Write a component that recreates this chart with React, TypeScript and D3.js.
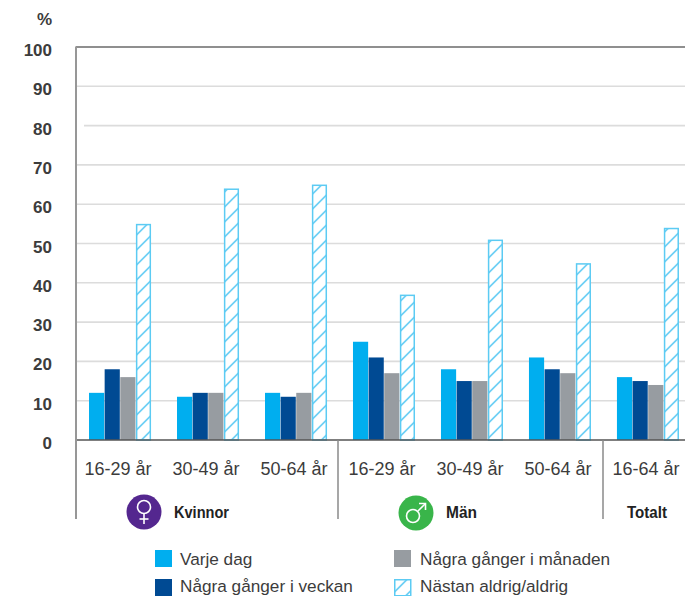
import React from "react";
import * as d3 from "d3";

const groups = ["K 16-29", "K 30-49", "K 50-64", "M 16-29", "M 30-49", "M 50-64", "T 16-64"];
const ageLabels = ["16-29 år", "30-49 år", "50-64 år", "16-29 år", "30-49 år", "50-64 år", "16-64 år"];
const seriesNames = ["Varje dag", "Några gånger i veckan", "Några gånger i månaden", "Nästan aldrig/aldrig"];
const varjeDag = [12, 11, 12, 25, 18, 21, 16];
const veckan = [18, 12, 11, 21, 15, 18, 15];
const manaden = [16, 12, 12, 17, 15, 17, 14];
const aldrig = [55, 64, 65, 37, 51, 45, 54];
const seriesValues = [varjeDag, veckan, manaden, aldrig];
const yTicks = [0, 10, 20, 30, 40, 50, 60, 70, 80, 90, 100];
const colors = ["#00aeef", "#004a93", "#979ca1", "url(#hatch)"];

const W = 685, H = 596;
const y = d3.scaleLinear().domain([0, 100]).range([440, 47]);
const x = d3.scaleBand<string>().domain(groups).range([76, 692]).paddingInner(0.295).paddingOuter(0.148);
const x1 = d3.scaleBand<string>().domain(seriesNames).range([0, x.bandwidth()]).paddingInner(0.03);
const font = "'Liberation Sans', Arial, sans-serif";
const textCol = "#3c3c3c";

const sep = [76, 338, 603];
const legend = [
  { i: 0, bx: 155, by: 550, tx: 180, ty: 565 },
  { i: 1, bx: 155, by: 579, tx: 180, ty: 591.5 },
  { i: 2, bx: 394, by: 550, tx: 420, ty: 565 },
  { i: 3, bx: 394, by: 579, tx: 420, ty: 591.5 },
];

export default function App() {
  return (
    <svg width={W} height={H} style={{ position: "absolute", left: 0, top: 0, display: "block", background: "#fff" }} fontFamily={font}>
      <defs>
        <pattern id="hatch" patternUnits="userSpaceOnUse" width="15" height="15" patternTransform="translate(0,4) skewY(-45)">
          <rect width="15" height="15" fill="#fff" />
          <line x1="0" y1="7.5" x2="15" y2="7.5" stroke="#2fbbf0" strokeWidth="1.7" />
        </pattern>
      </defs>

      <text x={52} y={25} textAnchor="end" fontWeight="700" fontSize={17} fill={textCol}>%</text>
      {yTicks.map((t) => (
        <g key={t}>
          {t > 0 && t < 100 && (
            <line x1={t === 80 ? 84 : 77} x2={W} y1={y(t)} y2={y(t)} stroke="#dcdcdc" strokeWidth={1.6} />
          )}
          <text x={52} y={y(t) + 9} textAnchor="end" fontWeight="700" fontSize={17} fill={textCol}>{t}</text>
        </g>
      ))}
      <line x1={75.5} x2={W} y1={47} y2={47} stroke="#8f8f8f" strokeWidth={2} />

      {groups.map((g, gi) => (
        <g key={g}>
          {seriesNames.map((s, si) => {
            const v = seriesValues[si][gi];
            const bx = (x(g) as number) + (x1(s) as number);
            const hatch = si === 3;
            return (
              <rect key={s} x={bx + (hatch ? 0.75 : 0)} y={y(v) + (hatch ? 0.75 : 0)} width={x1.bandwidth() - (hatch ? 1.5 : 0)} height={y(0) - y(v) - (hatch ? 0.75 : 0)}
                fill={colors[si]} stroke={hatch ? "#5ccbf3" : "none"} strokeWidth={hatch ? 1.5 : 0} />
            );
          })}
          <text x={(x(g) as number) + x.bandwidth() / 2 - 2} y={475} textAnchor="middle" fontSize={18} fill={textCol}>{ageLabels[gi]}</text>
        </g>
      ))}

      <line x1={75} x2={W} y1={440} y2={440} stroke="#555" strokeWidth={1.5} />
      <line x1={76} x2={76} y1={47} y2={519} stroke="#979797" strokeWidth={2} />
      {sep.slice(1).map((sx) => (
        <line key={sx} x1={sx} x2={sx} y1={440} y2={519} stroke="#8a8a8a" strokeWidth={1.5} />
      ))}

      <circle cx={144} cy={512} r={17.5} fill="#54278f" />
      <circle cx={144} cy={507} r={6.5} fill="none" stroke="#fff" strokeWidth={1.6} />
      <line x1={144} x2={144} y1={513.5} y2={524} stroke="#fff" strokeWidth={1.6} />
      <line x1={139.5} x2={148.5} y1={519} y2={519} stroke="#fff" strokeWidth={1.6} />
      <text x={174} y={518} fontWeight="700" fontSize={16} fill="#222" textLength={55} lengthAdjust="spacingAndGlyphs">Kvinnor</text>

      <circle cx={416} cy={513} r={17.5} fill="#39b54a" />
      <circle cx={413} cy={516} r={6.5} fill="none" stroke="#fff" strokeWidth={1.6} />
      <line x1={418} x2={425} y1={511} y2={504} stroke="#fff" strokeWidth={1.6} />
      <path d="M419 503.5 H425.5 V510" fill="none" stroke="#fff" strokeWidth={1.6} />
      <text x={446} y={518} fontWeight="700" fontSize={16} fill="#222" textLength={31} lengthAdjust="spacingAndGlyphs">Män</text>
      <text x={627} y={518} fontWeight="700" fontSize={16} fill="#222" textLength={40} lengthAdjust="spacingAndGlyphs">Totalt</text>

      {legend.map((l) => (
        <g key={l.i}>
          <rect x={l.bx + (l.i === 3 ? 0.75 : 0)} y={l.by + (l.i === 3 ? 0.75 : 0)} width={l.i === 3 ? 16 : 17} height={l.i === 3 ? 16 : 17}
            fill={colors[l.i]} stroke={l.i === 3 ? "#5ccbf3" : "none"} strokeWidth={1.5} />
          <text x={l.tx} y={l.ty} fontSize={17.2} fill={textCol}>{seriesNames[l.i]}</text>
        </g>
      ))}
    </svg>
  );
}
